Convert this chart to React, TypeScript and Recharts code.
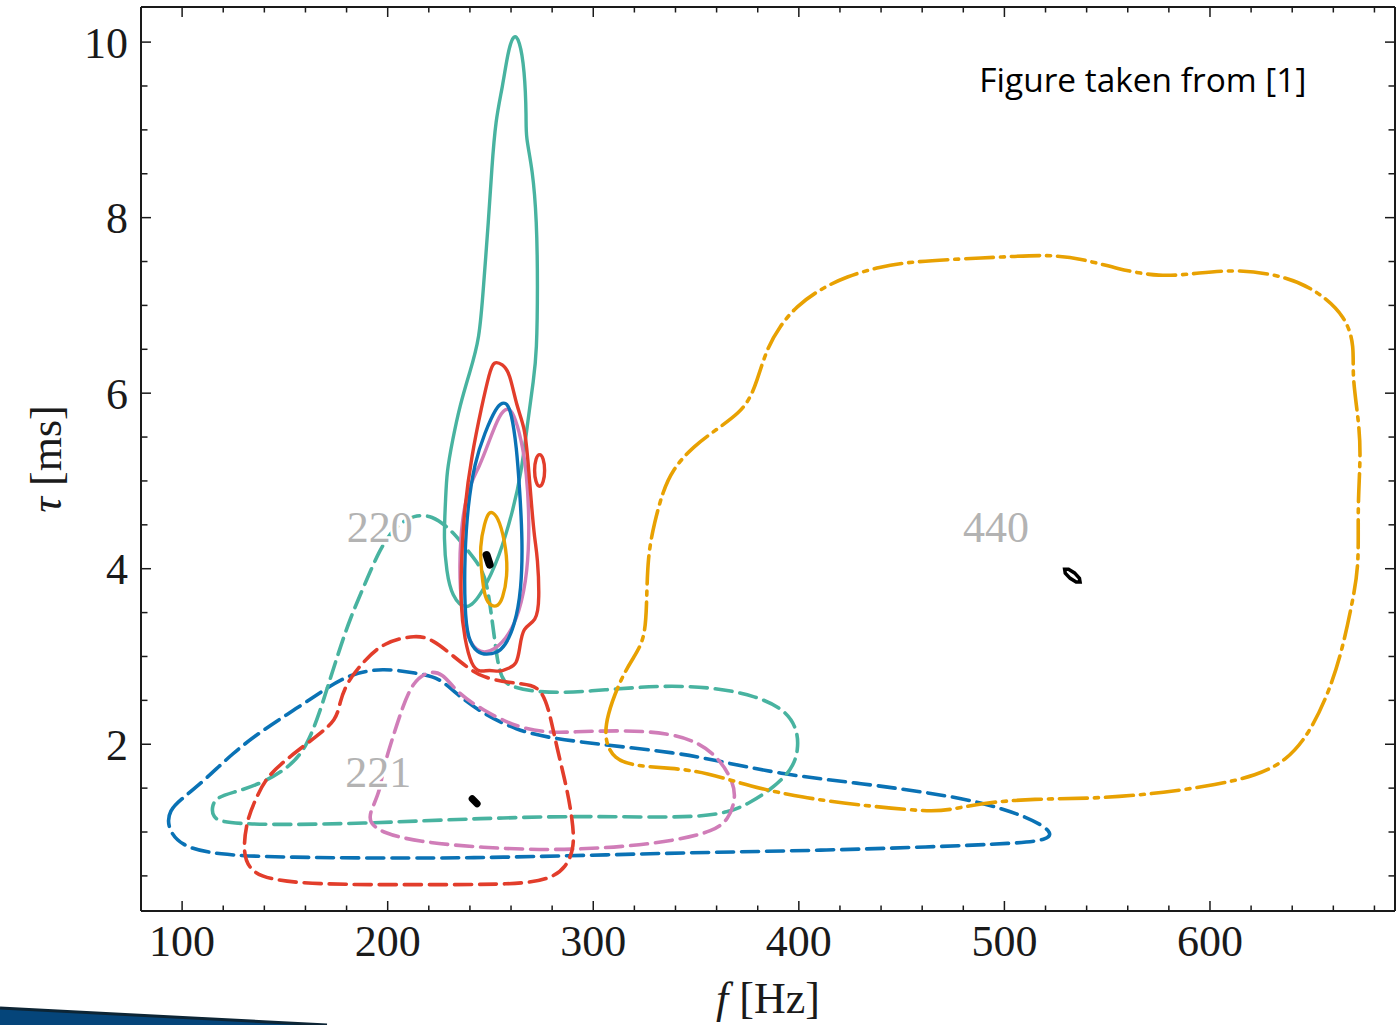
import React from 'react';
import { LineChart, Line, XAxis, YAxis, ReferenceDot } from 'recharts';

type Pt = [number, number];

// contour outlines, [f in Hz, tau in ms]
const teal220Solid: Pt[] = [
  [261.2, 10.1], [264.1, 10.03], [266.6, 9.69], [267.5, 9.12], [267.1, 8.93], [270.5, 8.55], [272.5, 7.98],
  [273.0, 7.22], [272.5, 6.46], [271.0, 6.16], [268.1, 5.67], [265.1, 5.1], [260.7, 4.64], [254.4, 4.14],
  [246.2, 3.73], [238.4, 3.5], [231.1, 3.69], [228.7, 3.96], [227.2, 4.33], [228.2, 4.79], [228.7, 5.1],
  [231.6, 5.47], [235.0, 5.85], [239.8, 6.23], [244.7, 6.61], [246.6, 7.22], [249.1, 7.98], [250.6, 8.55],
  [252.5, 9.12], [255.9, 9.49], [258.4, 9.88],
];
const red220Solid: Pt[] = [
  [251.5, 6.37], [255.9, 6.33], [259.3, 6.24], [262.7, 5.85], [266.6, 5.62], [268.1, 5.28], [270.0, 4.71],
  [271.5, 4.33], [272.9, 4.14], [273.9, 3.65], [272.4, 3.39], [265.6, 3.34], [264.2, 3.08], [262.7, 2.91],
  [259.3, 2.87], [254.4, 2.82], [249.6, 2.85], [244.7, 2.82], [240.8, 2.89], [237.4, 3.2], [235.4, 3.57],
  [235.9, 4.14], [237.4, 4.71], [240.8, 5.28], [245.7, 5.85], [249.6, 6.24],
];
const redIsland: Pt[] = [
  [273.9, 5.32], [275.8, 5.26], [276.6, 5.12], [275.8, 4.98], [273.9, 4.92], [272.0, 4.98], [271.2, 5.12], [272.0, 5.26],
];
const blue220Solid: Pt[] = [
  [255.9, 5.89], [257.8, 5.89], [260.2, 5.78], [262.7, 5.39], [264.2, 4.9], [265.6, 4.33], [265.1, 3.76],
  [261.7, 3.34], [256.9, 3.11], [253.0, 3.04], [248.1, 3.02], [243.7, 3.04], [238.9, 3.19], [237.4, 3.57],
  [237.4, 4.14], [238.9, 4.71], [242.3, 5.21], [247.2, 5.55], [253.0, 5.85],
];
const pink220Solid: Pt[] = [
  [258.3, 5.84], [261.2, 5.78], [265.1, 5.47], [267.6, 5.1], [269.0, 4.53], [268.1, 3.96], [264.2, 3.5],
  [257.8, 3.19], [249.6, 3.04], [243.2, 3.05], [237.4, 3.27], [235.0, 3.76], [235.0, 4.33], [238.4, 4.9],
  [244.7, 5.16], [249.6, 5.47], [254.4, 5.76],
];
const orange220Solid: Pt[] = [
  [251.0, 4.65], [254.4, 4.56], [257.8, 4.22], [258.3, 3.91], [255.9, 3.65], [253.5, 3.57], [250.6, 3.57],
  [247.2, 3.65], [245.7, 3.96], [244.7, 4.25], [247.2, 4.53], [249.1, 4.64],
];

const teal221Dashed: Pt[] = [
  [213.1, 4.62], [221.9, 4.6], [228.7, 4.48], [233.5, 4.37], [239.8, 4.18], [243.7, 4.07], [248.1, 3.88],
  [250.5, 3.46], [252.0, 3.2], [253.5, 2.93], [255.4, 2.77], [257.8, 2.66], [276.8, 2.57], [306.4, 2.62],
  [332.7, 2.67], [358.5, 2.65], [379.4, 2.55], [393.5, 2.39], [399.3, 2.17], [399.8, 1.94], [396.9, 1.71],
  [386.2, 1.48], [376.0, 1.33], [365.8, 1.22], [349.7, 1.17], [323.9, 1.17], [288.9, 1.18], [254.4, 1.16],
  [230.1, 1.14], [189.7, 1.1], [148.9, 1.08], [119.7, 1.1], [114.9, 1.17], [114.4, 1.29], [116.8, 1.4],
  [126.5, 1.46], [139.2, 1.56], [152.3, 1.74], [160.6, 1.97], [166.9, 2.36], [171.8, 2.73], [176.6, 3.08],
  [181.5, 3.42], [188.8, 3.82], [196.1, 4.22], [203.4, 4.48],
];
const blue221Dashed: Pt[] = [
  [92.5, 1.07], [94.0, 1.25], [98.8, 1.36], [111.0, 1.59], [124.6, 1.9], [139.2, 2.16], [153.8, 2.38],
  [168.4, 2.61], [181.5, 2.8], [197.5, 2.87], [214.1, 2.81], [225.2, 2.76], [233.5, 2.57], [246.2, 2.35],
  [262.7, 2.16], [278.8, 2.07], [306.5, 1.99], [341.5, 1.9], [358.5, 1.82], [393.5, 1.65], [428.0, 1.56],
  [463.0, 1.45], [488.8, 1.34], [511.7, 1.17], [523.8, 1.0], [520.9, 0.91], [506.3, 0.87], [463.0, 0.83],
  [410.5, 0.79], [358.5, 0.77], [306.5, 0.74], [254.4, 0.71], [214.1, 0.7], [148.9, 0.71], [116.8, 0.74],
  [98.8, 0.84],
];
const red221Dashed: Pt[] = [
  [214.1, 3.25], [221.9, 3.19], [230.1, 3.04], [238.4, 2.88], [246.2, 2.76], [259.3, 2.7], [270.5, 2.68],
  [275.4, 2.59], [278.8, 2.36], [282.2, 1.97], [287.0, 1.52], [289.9, 1.14], [290.9, 0.83], [287.0, 0.6],
  [278.8, 0.46], [262.7, 0.4], [214.1, 0.4], [165.5, 0.4], [141.2, 0.46], [132.9, 0.57], [129.5, 0.76],
  [131.4, 1.14], [136.3, 1.4], [141.1, 1.63], [152.3, 1.86], [165.5, 2.09], [175.2, 2.28], [176.6, 2.47],
  [180.0, 2.7], [187.8, 2.93], [197.5, 3.16],
];
const pink221Dashed: Pt[] = [
  [218.9, 2.83], [226.7, 2.82], [233.5, 2.59], [246.2, 2.39], [262.7, 2.19], [278.8, 2.13], [289.0, 2.14],
  [315.3, 2.16], [336.2, 2.13], [351.7, 2.02], [361.9, 1.82], [368.3, 1.56], [369.2, 1.37], [365.8, 1.14],
  [358.5, 1.01], [341.5, 0.91], [315.3, 0.83], [280.8, 0.79], [246.2, 0.82], [214.1, 0.89], [197.6, 0.99],
  [191.2, 1.1], [191.2, 1.22], [196.1, 1.45], [197.6, 1.71], [202.5, 2.08], [207.3, 2.43], [212.2, 2.7],
];
const orange440DashDot: Pt[] = [
  [305.5, 2.05], [306.5, 2.32], [313.3, 2.74], [319.1, 2.97], [325.0, 3.19], [326.0, 3.57], [326.4, 4.14],
  [329.8, 4.53], [333.7, 4.87], [338.6, 5.13], [348.3, 5.39], [361.4, 5.61], [371.2, 5.78], [376.0, 5.93],
  [379.4, 6.12], [384.3, 6.5], [390.6, 6.76], [398.8, 6.99], [410.0, 7.18], [423.2, 7.33], [439.2, 7.44],
  [455.3, 7.5], [479.6, 7.53], [497.6, 7.55], [521.9, 7.58], [537.9, 7.53], [554.5, 7.42], [575.4, 7.32],
  [594.8, 7.37], [614.3, 7.41], [635.2, 7.34], [651.7, 7.18], [666.3, 6.87], [670.2, 6.53], [669.2, 6.22],
  [671.7, 5.79], [673.6, 5.35], [671.7, 4.7], [672.6, 4.05], [669.2, 3.61], [664.4, 3.08], [658.0, 2.6],
  [648.3, 2.12], [637.1, 1.81], [622.5, 1.64], [603.1, 1.54], [578.7, 1.45], [546.1, 1.38], [513.6, 1.38],
  [488.8, 1.33], [473.2, 1.25], [463.0, 1.23], [428.0, 1.31], [402.2, 1.39], [376.0, 1.52], [355.1, 1.68],
  [337.6, 1.73], [320.6, 1.75], [309.9, 1.83],
];

// injected values (black)
const inj220: Pt[] = [[248.1, 4.155], [249.6, 4.047]];
const inj221: Pt[] = [[241.1, 1.379], [243.5, 1.322]];
const inj440: Pt[] = [
  [536.8, 3.848], [534.9, 3.848], [532.0, 3.89], [529.6, 3.95], [529.3, 3.994], [531.2, 3.994], [534.1, 3.952], [536.5, 3.891],
];

const fMajor = [100, 200, 300, 400, 500, 600];
const fMinor = [120, 140, 160, 180, 220, 240, 260, 280, 320, 340, 360, 380, 420, 440, 460, 480, 520, 540, 560, 580, 620, 640, 660, 680];
const tauMajor = [2, 4, 6, 8, 10];
const tauMinor = [0.5, 1, 1.5, 2.5, 3, 3.5, 4.5, 5, 5.5, 6.5, 7, 7.5, 8.5, 9, 9.5];
const fAllTicks = [...fMajor, ...fMinor].sort((a, b) => a - b);

const SERIF = '"Liberation Serif", "DejaVu Serif", serif';
const INK = '#1a1a1a';
const TEAL = '#48b3a0';
const RED = '#e23d2b';
const BLUE = '#0a72b5';
const PINK = '#d07db8';
const ORANGE = '#e8a102';
const DASH = '17 8';
const DASH_DOT = '28 7 4 7';

const CHART_H = 1025;
const MARGIN_TOP = 7;
const X_AXIS_H = 114;
const PLOT_H = CHART_H - MARGIN_TOP - X_AXIS_H;

const toRows = (pts: Pt[]) => pts.map(([f, tau]) => ({ f, tau }));

const series = [
  { id: 'blue221', pts: blue221Dashed, color: BLUE, dash: DASH, curve: 'basisClosed', w: 3.6 },
  { id: 'teal221', pts: teal221Dashed, color: TEAL, dash: DASH, curve: 'basisClosed', w: 3.6 },
  { id: 'pink221', pts: pink221Dashed, color: PINK, dash: DASH, curve: 'basisClosed', w: 3.6 },
  { id: 'red221', pts: red221Dashed, color: RED, dash: DASH, curve: 'basisClosed', w: 3.6 },
  { id: 'orange440', pts: orange440DashDot, color: ORANGE, dash: DASH_DOT, curve: 'basisClosed', w: 3.6 },
  { id: 'teal220', pts: teal220Solid, color: TEAL, dash: undefined, curve: 'basisClosed', w: 3.4 },
  { id: 'pink220', pts: pink220Solid, color: PINK, dash: undefined, curve: 'basisClosed', w: 3.4 },
  { id: 'blue220', pts: blue220Solid, color: BLUE, dash: undefined, curve: 'basisClosed', w: 3.4 },
  { id: 'red220', pts: red220Solid, color: RED, dash: undefined, curve: 'basisClosed', w: 3.4 },
  { id: 'redIsland', pts: redIsland, color: RED, dash: undefined, curve: 'basisClosed', w: 3.4 },
  { id: 'orange220', pts: orange220Solid, color: ORANGE, dash: undefined, curve: 'basisClosed', w: 3.4 },
  { id: 'inj220', pts: inj220, color: '#000', dash: undefined, curve: 'linear', w: 8 },
  { id: 'inj221', pts: inj221, color: '#000', dash: undefined, curve: 'linear', w: 7 },
  { id: 'inj440', pts: inj440, color: '#000', dash: undefined, curve: 'linearClosed', w: 3.5 },
];

// bottom axis tick: inward marks on bottom and top frame, label for the majors
const FTick = ({ x, y, payload }: any) => {
  const major = fMajor.includes(payload.value);
  const len = major ? 10 : 5.5;
  const top = y - PLOT_H;
  return (
    <g>
      <line x1={x} y1={y} x2={x} y2={y - len} stroke={INK} strokeWidth={1.5} />
      <line x1={x} y1={top} x2={x} y2={top + len} stroke={INK} strokeWidth={1.5} />
      {major && (
        <text x={x} y={y + 45} textAnchor="middle" fontFamily={SERIF} fontSize={44} fill={INK}>
          {payload.value}
        </text>
      )}
    </g>
  );
};

const ModeLabel = ({ viewBox, text }: any) => (
  <text
    x={viewBox.x + viewBox.width / 2}
    y={viewBox.y + viewBox.height / 2}
    dy={15}
    textAnchor="middle"
    fontFamily={SERIF}
    fontSize={44}
    fill="#b3b3b3"
    stroke="#fff"
    strokeWidth={5}
    paintOrder="stroke"
  >
    {text}
  </text>
);

const NoteLabel = ({ viewBox, text }: any) => (
  <text
    x={viewBox.x + viewBox.width / 2}
    y={viewBox.y + viewBox.height / 2}
    fontFamily='"Open Sans", "Noto Sans", sans-serif'
    fontSize={33}
    fill="#000"
    textLength={327}
    lengthAdjust="spacingAndGlyphs"
  >
    {text}
  </text>
);

const FTitle = ({ viewBox }: any) => (
  <text x={viewBox.x + viewBox.width / 2} y={viewBox.y + 102} textAnchor="middle" fontFamily={SERIF} fontSize={44} fill={INK}>
    <tspan fontStyle="italic">f</tspan>
    {' [Hz]'}
  </text>
);

const TauTitle = ({ viewBox }: any) => {
  const cx = 46;
  const cy = viewBox.y + viewBox.height / 2;
  return (
    <text x={cx} y={cy} dy={15} transform={`rotate(-90, ${cx}, ${cy})`} textAnchor="middle" fontFamily={SERIF} fontSize={44} fill={INK}>
      <tspan fontStyle="italic">τ</tspan>
      {' [ms]'}
    </text>
  );
};

// tick marks only, no text
const NoLabel = () => <g />;

const tickIn = { stroke: INK, strokeWidth: 1.5 };
const frame = { stroke: INK, strokeWidth: 2 };
const fDom: [number, number] = [80, 690];
const tauDom: [number, number] = [0.1, 10.4];

const App: React.FC = () => {
  return (
    <div style={{ position: 'absolute', left: 0, top: 0, width: 1398, height: CHART_H, background: '#fff' }}>
      <LineChart width={1398} height={CHART_H} margin={{ top: MARGIN_TOP, right: 3, bottom: 0, left: 0 }}>
        <XAxis
          xAxisId="f"
          dataKey="f"
          type="number"
          domain={fDom}
          allowDataOverflow
          ticks={fAllTicks}
          interval={0}
          height={X_AXIS_H}
          tickLine={false}
          tickSize={0}
          tickMargin={0}
          axisLine={frame}
          tick={FTick}
          label={<FTitle />}
        />
        <XAxis xAxisId="fTop" orientation="top" type="number" domain={fDom} allowDataOverflow mirror height={1} tick={NoLabel} tickLine={false} axisLine={frame} />

        <YAxis
          yAxisId="tau"
          type="number"
          domain={tauDom}
          allowDataOverflow
          ticks={tauMajor}
          interval={0}
          width={141}
          tickLine={false}
          tickSize={0}
          tickMargin={13}
          axisLine={frame}
          tick={{ fontFamily: SERIF, fontSize: 44, fill: INK }}
          label={<TauTitle />}
        />
        <YAxis yAxisId="tauMaj" type="number" domain={tauDom} allowDataOverflow ticks={tauMajor} interval={0} mirror width={1} tick={NoLabel} tickSize={10} tickLine={tickIn} axisLine={false} />
        <YAxis yAxisId="tauMin" type="number" domain={tauDom} allowDataOverflow ticks={tauMinor} interval={0} mirror width={1} tick={NoLabel} tickSize={5.5} tickLine={tickIn} axisLine={false} />
        <YAxis yAxisId="tauRMaj" orientation="right" type="number" domain={tauDom} allowDataOverflow ticks={tauMajor} interval={0} mirror width={1} tick={NoLabel} tickSize={10} tickLine={tickIn} axisLine={frame} />
        <YAxis yAxisId="tauRMin" orientation="right" type="number" domain={tauDom} allowDataOverflow ticks={tauMinor} interval={0} mirror width={1} tick={NoLabel} tickSize={5.5} tickLine={tickIn} axisLine={false} />

        {series.map((s) => (
          <Line
            key={s.id}
            xAxisId="f"
            yAxisId="tau"
            data={toRows(s.pts)}
            dataKey="tau"
            type={s.curve as any}
            stroke={s.color}
            strokeWidth={s.w}
            strokeDasharray={s.dash}
            strokeLinecap="round"
            dot={false}
            activeDot={false}
            isAnimationActive={false}
          />
        ))}

        <ReferenceDot xAxisId="f" yAxisId="tau" x={196.1} y={4.47} r={0.5} fill="none" stroke="none" ifOverflow="visible" label={<ModeLabel text="220" />} />
        <ReferenceDot xAxisId="f" yAxisId="tau" x={195.4} y={1.68} r={0.5} fill="none" stroke="none" ifOverflow="visible" label={<ModeLabel text="221" />} />
        <ReferenceDot xAxisId="f" yAxisId="tau" x={495.9} y={4.47} r={0.5} fill="none" stroke="none" ifOverflow="visible" label={<ModeLabel text="440" />} />
        <ReferenceDot xAxisId="f" yAxisId="tau" x={487.8} y={9.43} r={0.5} fill="none" stroke="none" ifOverflow="visible" label={<NoteLabel text="Figure taken from [1]" />} />
      </LineChart>
      <svg width={330} height={20} style={{ position: 'absolute', left: 0, top: 1005 }}>
        <polygon points="0,3 327,20 0,20" fill="#05457a" />
        <line x1={0} y1={3} x2={327} y2={20} stroke="#0d2535" strokeWidth={3} />
      </svg>
    </div>
  );
};

export default App;
